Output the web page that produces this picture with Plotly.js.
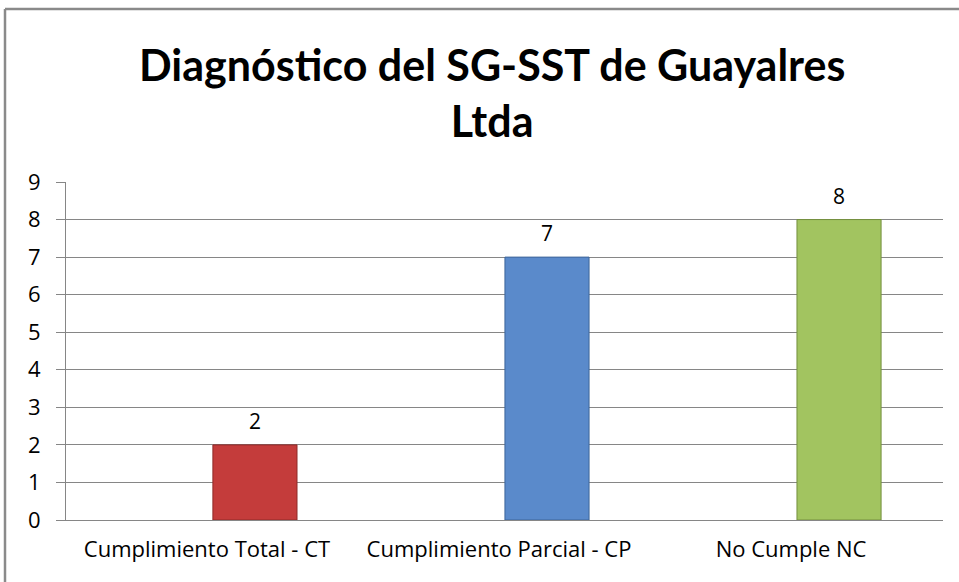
<!DOCTYPE html>
<html>
<head>
<meta charset="utf-8">
<script src="https://cdn.plot.ly/plotly-3.0.1.min.js"></script>
<style>html,body{margin:0;padding:0;background:#fff;}#chart{width:959px;height:582px;}</style>
</head>
<body>
<div id="chart"></div>
<script>
const categories = ["Cumplimiento Total - CT", "Cumplimiento Parcial - CP", "No Cumple NC"];
const values = [2, 7, 8];
const barColors = ["#C43C3B", "#5A8ACB", "#A2C460"];
const edgeColors = ["#8E2A28", "#3D6499", "#748F3E"];
const yTicks = [0, 1, 2, 3, 4, 5, 6, 7, 8, 9];
const titleText = "Diagnóstico del SG-SST de Guayalres<br>Ltda";

const W = 959, H = 582;
const m = {l: 66, r: 16, t: 182, b: 62};
const pw = W - m.l - m.r, ph = H - m.t - m.b;
const px = v => (v - m.l) / pw;
const py = v => (H - m.b - v) / ph;

const FONT = "'Open Sans', 'Noto Sans', sans-serif";
const TFONT = "Lato, 'Open Sans', sans-serif";

const trace = {
  type: "bar",
  x: categories.map((c, i) => i),
  y: values,
  width: 0.288,
  marker: {color: barColors, line: {color: edgeColors, width: 1}},
  hoverinfo: "skip"
};

const annotations = values.map((v, i) => ({
  x: i, y: v, xref: "x", yref: "y",
  text: String(v), showarrow: false,
  yanchor: "bottom", yshift: 8,
  font: {family: FONT, size: 21, color: "#000"}
}));
annotations.push({
  xref: "paper", yref: "paper", x: px(492), y: py(37),
  xanchor: "center", yanchor: "top", showarrow: false,
  text: "<b>" + titleText + "</b>",
  font: {family: TFONT, size: 43, color: "#000"}
});

const layout = {
  width: W, height: H,
  margin: m,
  paper_bgcolor: "#fff", plot_bgcolor: "#fff",
  showlegend: false,
  xaxis: {
    range: [-0.647, 2.356],
    tickmode: "array",
    tickvals: categories.map((c, i) => i),
    ticktext: categories,
    ticks: "",
    showgrid: false, zeroline: false,
    showline: true, linecolor: "#868686", linewidth: 1,
    ticklabelshift: -48,
    ticklabelstandoff: 10,
    tickfont: {family: FONT, size: 22, color: "#000"},
    fixedrange: true
  },
  yaxis: {
    range: [0, 9],
    tickmode: "array",
    tickvals: yTicks,
    ticktext: yTicks.map(String),
    ticks: "outside", ticklen: 9, tickcolor: "#868686", tickwidth: 1,
    showgrid: true, gridcolor: "#868686", gridwidth: 1,
    zeroline: false,
    showline: true, linecolor: "#868686", linewidth: 1,
    ticklabelstandoff: 11,
    tickfont: {family: FONT, size: 22, color: "#000"},
    fixedrange: true
  },
  annotations: annotations,
  shapes: [
    {type: "line", xref: "paper", yref: "paper", x0: px(5), x1: px(5), y0: py(9), y1: py(590), line: {color: "#8a8a8a", width: 2.5}},
    {type: "line", xref: "paper", yref: "paper", x0: px(5), x1: px(965), y0: py(9), y1: py(9), line: {color: "#8a8a8a", width: 2.5}}
  ]
};

Plotly.newPlot("chart", [trace], layout, {displayModeBar: false, staticPlot: true});
</script>
</body>
</html>
